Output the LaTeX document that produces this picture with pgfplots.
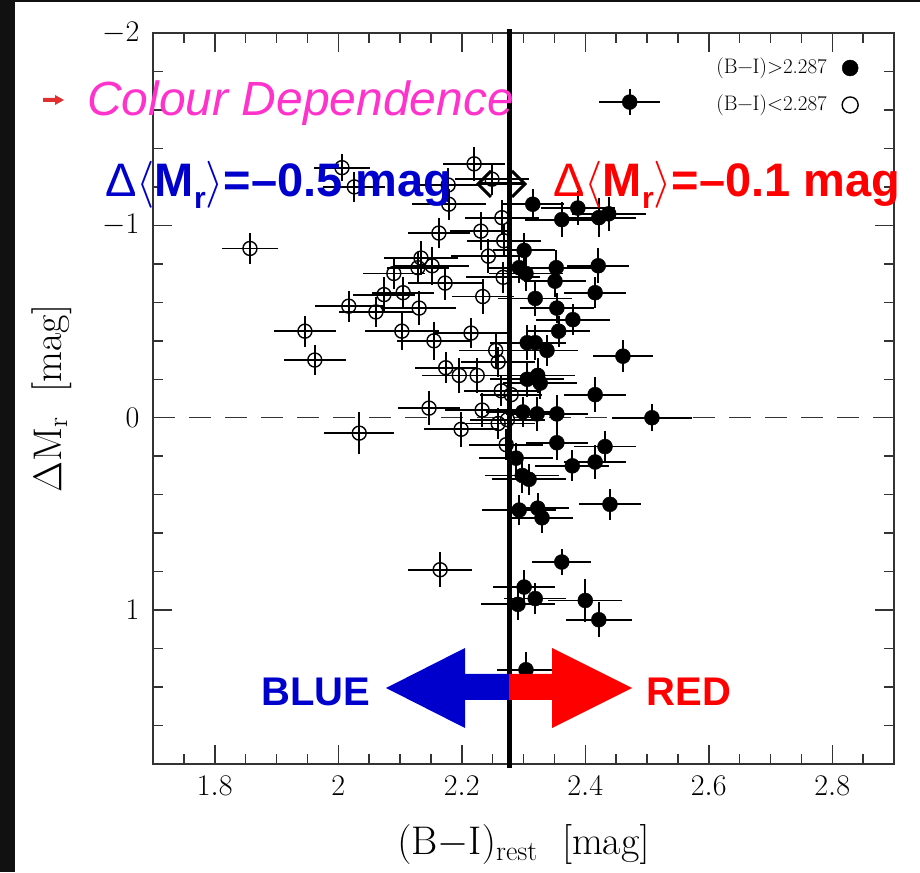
\RequirePackage{fix-cm}
\documentclass[border=0pt]{standalone}
\usepackage{fontspec}
\usepackage{pgfplots}
\usepackage{pgfplotstable}
\pgfplotsset{compat=1.18}
\newfontfamily\arial{Liberation Sans}
\definecolor{pptblue}{RGB}{0,0,204}
\definecolor{pptred}{RGB}{255,0,0}
\definecolor{pptpink}{RGB}{255,51,204}
\definecolor{framegray}{RGB}{51,51,51}
\definecolor{bulletred}{RGB}{224,48,48}
\definecolor{slideblack}{RGB}{17,17,17}

% galaxies bluer than the split: (B-I), Delta M_r and their errors
\pgfplotstableread{
x y ex ey
1.857 -0.88 0.046 0.08
2.006 -1.30 0.045 0.07
2.026 -1.20 0.050 0.08
2.178 -1.21 0.050 0.09
2.179 -1.11 0.060 0.08
2.163 -0.96 0.050 0.08
2.134 -0.83 0.060 0.09
2.129 -0.78 0.050 0.08
2.152 -0.79 0.060 0.10
2.090 -0.75 0.050 0.08
2.173 -0.70 0.060 0.09
2.074 -0.64 0.050 0.09
2.105 -0.65 0.050 0.08
2.017 -0.58 0.055 0.08
2.061 -0.55 0.060 0.08
2.131 -0.57 0.060 0.09
1.946 -0.45 0.050 0.08
2.103 -0.45 0.060 0.10
2.155 -0.40 0.060 0.10
1.962 -0.30 0.050 0.08
2.174 -0.26 0.050 0.08
2.196 -0.22 0.060 0.09
2.147 -0.05 0.050 0.09
2.034 0.08 0.057 0.11
2.199 0.06 0.060 0.09
2.165 0.79 0.052 0.09
2.220 -1.32 0.050 0.09
2.249 -1.24 0.060 0.08
2.265 -1.04 0.060 0.09
2.231 -0.97 0.050 0.10
2.268 -0.92 0.060 0.08
2.243 -0.84 0.060 0.09
2.267 -0.73 0.060 0.08
2.234 -0.63 0.050 0.09
2.215 -0.44 0.060 0.08
2.255 -0.35 0.060 0.09
2.259 -0.29 0.060 0.08
2.225 -0.22 0.050 0.09
2.264 -0.14 0.060 0.08
2.280 -0.12 0.050 0.09
2.233 -0.04 0.060 0.09
2.259 0.03 0.060 0.08
2.274 0.01 0.060 0.08
2.272 0.14 0.060 0.08
}\bluegals

% galaxies redder than the split
\pgfplotstableread{
x y ex ey
2.315 -1.11 0.050 0.08
2.388 -1.09 0.060 0.09
2.362 -1.03 0.060 0.09
2.422 -1.04 0.060 0.10
2.438 -1.06 0.060 0.09
2.301 -0.87 0.050 0.09
2.293 -0.78 0.050 0.08
2.304 -0.75 0.060 0.09
2.353 -0.78 0.060 0.09
2.421 -0.79 0.050 0.09
2.351 -0.71 0.050 0.08
2.416 -0.65 0.050 0.08
2.319 -0.62 0.060 0.09
2.354 -0.57 0.060 0.08
2.380 -0.51 0.060 0.08
2.357 -0.45 0.050 0.08
2.306 -0.39 0.060 0.09
2.319 -0.39 0.050 0.09
2.338 -0.35 0.050 0.08
2.461 -0.32 0.049 0.083
2.323 -0.22 0.060 0.09
2.306 -0.20 0.060 0.09
2.327 -0.18 0.060 0.08
2.416 -0.12 0.050 0.09
2.299 -0.03 0.060 0.08
2.322 -0.02 0.050 0.09
2.354 -0.02 0.050 0.10
2.508 0.00 0.065 0.07
2.354 0.13 0.050 0.09
2.432 0.15 0.050 0.08
2.288 0.21 0.060 0.08
2.416 0.23 0.050 0.09
2.379 0.25 0.060 0.08
2.298 0.30 0.060 0.09
2.309 0.32 0.060 0.08
2.440 0.45 0.050 0.08
2.293 0.48 0.060 0.08
2.323 0.47 0.050 0.08
2.330 0.52 0.050 0.08
2.362 0.75 0.048 0.07
2.301 0.88 0.050 0.09
2.319 0.94 0.050 0.08
2.291 0.97 0.060 0.08
2.400 0.95 0.060 0.11
2.422 1.05 0.053 0.09
2.304 1.31 0.047 0.09
}\redgals

\begin{document}
\begin{tikzpicture}
\useasboundingbox (0pt,0pt) rectangle (920pt,872pt);
\fill[white] (0pt,0pt) rectangle (920pt,872pt);
\begin{axis}[
  at={(153pt,108pt)}, anchor=south west,
  scale only axis, width=741pt, height=731pt,
  xmin=1.7, xmax=2.9, ymin=-2, ymax=1.8, y dir=reverse,
  xtick={1.8,2,2.2,2.4,2.6,2.8},
  ytick={-2,-1,0,1},
  minor xtick={1.75,1.85,1.9,1.95,2.05,2.1,2.15,2.25,2.3,2.35,2.45,2.5,2.55,2.65,2.7,2.75,2.85},
  minor ytick={-1.8,-1.6,-1.4,-1.2,-0.8,-0.6,-0.4,-0.2,0.2,0.4,0.6,0.8,1.2,1.4,1.6},
  tick align=inside,
  major tick length=19pt, minor tick length=10pt,
  axis line style={framegray, line width=1.5pt},
  every tick/.style={framegray, line width=1.5pt},
  ticklabel style={font=\fontsize{30}{30}\selectfont, text=black},
  xticklabel style={yshift=-9pt},
  yticklabel style={xshift=-10pt},
  xlabel={$(\mathrm{B}{-}\mathrm{I})_{\mathrm{rest}}\ \ [\mathrm{mag}]$},
  ylabel={$\Delta\mathrm{M}_{\mathrm{r}}\ \ [\mathrm{mag}]$},
  xlabel style={font=\fontsize{40}{40}\selectfont, at={(axis description cs:0.5,-0.11)}, anchor=center},
  ylabel style={font=\fontsize{40}{40}\selectfont, at={(axis description cs:-0.137,0.5)}, anchor=center},
  clip=false,
  error bars/error mark=none,
  error bars/error bar style={line width=1.8pt, black},
]
% zero offset reference
\addplot[framegray, line width=1.5pt, dash pattern=on 22pt off 14pt] coordinates {(1.7,0) (2.9,0)};

% blue half: open circles
\addplot[only marks, mark=o, mark size=7pt, mark options={line width=1.4pt, black},
  error bars/.cd, x dir=both, x explicit, y dir=both, y explicit]
  table[x=x, y=y, x error=ex, y error=ey] {\bluegals};

% red half: filled circles
\addplot[only marks, mark=*, mark size=7.5pt, mark options={fill=black, draw=black},
  error bars/.cd, x dir=both, x explicit, y dir=both, y explicit]
  table[x=x, y=y, x error=ex, y error=ey] {\redgals};

% typical error bar
\addplot[only marks, mark=*, mark size=7.5pt, mark options={fill=black, draw=black},
  error bars/.cd, x dir=both, x explicit, y dir=both, y explicit]
  coordinates {(2.472,-1.641) +- (0.049,0.068)};

% key
\addplot[only marks, mark=*, mark size=8pt, mark options={fill=black}] coordinates {(2.829,-1.818)};
\addplot[only marks, mark=o, mark size=8pt, mark options={line width=1.4pt, black}] coordinates {(2.829,-1.626)};
\node[anchor=east, inner sep=0pt, font=\fontsize{21}{21}\selectfont] at (axis cs:2.7915,-1.818) {(B−I)>2.287};
\node[anchor=east, inner sep=0pt, font=\fontsize{21}{21}\selectfont] at (axis cs:2.7915,-1.626) {(B−I)<2.287};

% colour split
\addplot[black, line width=5pt] coordinates {(2.277,-2.02) (2.277,1.82)};
\end{axis}

% slide annotations (pixel frame, origin top-left)
\begin{scope}[x=1pt, y=-1pt, shift={(0pt,872pt)}]
  \fill[slideblack] (0,0) rectangle (15,872);
  \fill[slideblack] (0,0) rectangle (920,2);
  \fill[bulletred] (43,98) -- (55,98) -- (55,95) -- (64,100) -- (55,105) -- (55,102) -- (43,102) -- cycle;
  \node[anchor=base west, inner sep=0pt, text=pptpink] at (87,116)
    {\arial\itshape\fontsize{48}{48}\selectfont Colour Dependence};
  \node[anchor=base west, inner sep=0pt, text=pptblue] at (105,197)
    {\arial\fontsize{47}{47}\selectfont Δ$\langle$\textbf{M}\raisebox{-12pt}{\fontsize{30}{30}\selectfont\bfseries r}$\rangle$\textbf{=–0.5 mag}};
  \node[anchor=base west, inner sep=0pt, text=pptred] at (553,197)
    {\arial\fontsize{47}{47}\selectfont Δ$\langle$\textbf{M}\raisebox{-12pt}{\fontsize{30}{30}\selectfont\bfseries r}$\rangle$\textbf{=–0.1 mag}};
  \draw[black, line width=3pt] (480,184) -- (523,184);
  \draw[black, line width=3pt, miter limit=10] (491,171) -- (478,184) -- (491,197);
  \draw[black, line width=3pt, miter limit=10] (512,171) -- (525,184) -- (512,197);
  \fill[pptblue] (509,674) -- (465,674) -- (465,648) -- (386,688) -- (465,728) -- (465,700) -- (509,700) -- cycle;
  \fill[pptred] (509,674) -- (552,674) -- (552,648) -- (632,688) -- (552,728) -- (552,700) -- (509,700) -- cycle;
  \node[inner sep=0pt, text=pptblue, font=\arial\bfseries\fontsize{40}{40}\selectfont] at (316,692) {BLUE};
  \node[inner sep=0pt, text=pptred, font=\arial\bfseries\fontsize{40}{40}\selectfont] at (689,692) {RED};
\end{scope}
\end{tikzpicture}
\end{document}
